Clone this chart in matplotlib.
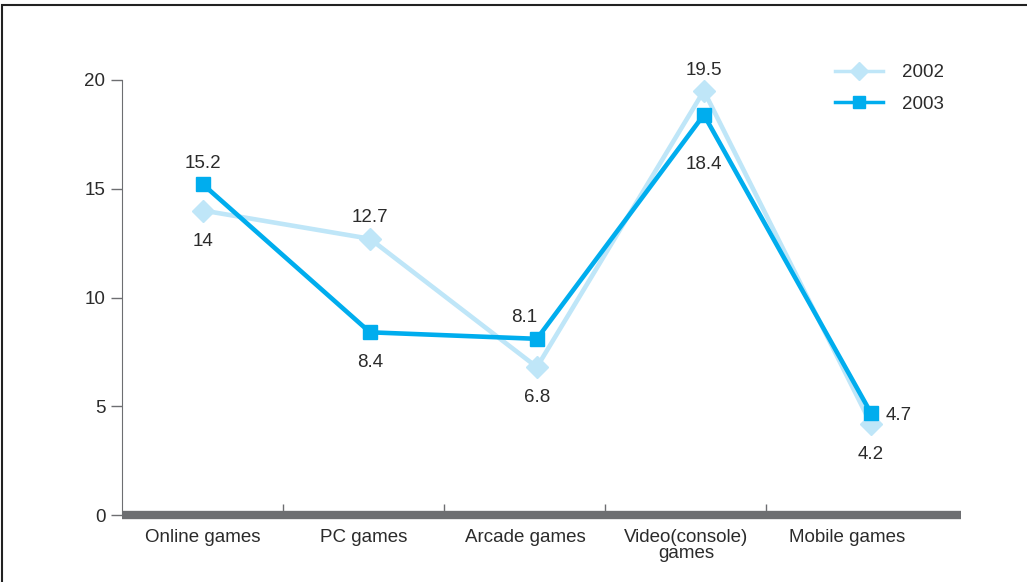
import matplotlib.pyplot as plt
from matplotlib.patches import Rectangle

categories = ["Online games", "PC games", "Arcade games", "Video(console)\ngames", "Mobile games"]
y2002 = [14, 12.7, 6.8, 19.5, 4.2]
y2003 = [15.2, 8.4, 8.1, 18.4, 4.7]

plt.rcParams['font.family'] = ['Liberation Sans', 'DejaVu Sans']
plt.rcParams['font.size'] = 13.5
plt.rcParams['text.color'] = '#2b2b2b'
plt.rcParams['xtick.labelcolor'] = '#2b2b2b'
plt.rcParams['ytick.labelcolor'] = '#2b2b2b'

light = '#bfe6f8'
blue = '#00adee'
grey = '#6d6e71'

fig = plt.figure(figsize=(10.27, 5.82), dpi=100)
# outer frame
fig.patches.append(Rectangle((2 / 1027, -0.1), 1.2, 1.1 - 5 / 582, transform=fig.transFigure,
                             fill=False, edgecolor='#222222', linewidth=1.5))

ax = fig.add_axes([122 / 1027, 1 - 515 / 582, 839 / 1027, 435 / 582])
xs = list(range(len(categories)))
ax.plot(xs, y2002, color=light, lw=3.3, marker='D', ms=11, label='2002', zorder=2)
ax.plot(xs, y2003, color=blue, lw=3.3, marker='s', ms=10, label='2003', zorder=3)

# value labels (offsets in points)
offs2002 = [(0, -22), (0, 15), (0, -22), (0, 15), (0, -22)]
offs2003 = [(0, 15), (0, -22), (-9, 15), (0, -36), (20, -2)]
for x, v, (dx, dy) in zip(xs, y2002, offs2002):
    ax.annotate(f"{v:g}", (x, v), xytext=(dx, dy), textcoords='offset points',
                ha='center', va='center')
for x, v, (dx, dy) in zip(xs, y2003, offs2003):
    ax.annotate(f"{v:g}", (x, v), xytext=(dx, dy), textcoords='offset points',
                ha='center', va='center')

ax.set_xlim(-0.485, 4.54)
ax.set_ylim(0, 20)
ax.set_yticks([0, 5, 10, 15, 20])
step = 161 / 167
ax.set_xticks([i * step for i in xs])
ax.set_xticklabels(categories, linespacing=0.9)
ax.set_xticks([(i + 0.5) * step for i in range(4)], minor=True)
ax.tick_params(axis='x', which='major', length=0, pad=10)
ax.tick_params(axis='x', which='minor', length=8, direction='in', color=grey, width=1)
ax.tick_params(axis='y', length=8, color=grey, width=1, pad=4)
for s in ['top', 'right']:
    ax.spines[s].set_visible(False)
ax.spines['left'].set_color(grey)
ax.spines['bottom'].set_color(grey)
ax.spines['bottom'].set_linewidth(6)
ax.spines['bottom'].set_capstyle('butt')

leg = ax.legend(loc='upper right', bbox_to_anchor=(1.0, 1.075), frameon=False, handlelength=2.6,
                handletextpad=1.0, labelspacing=0.75, markerscale=0.8)
for h in leg.get_lines():
    h.set_linewidth(2.5)

fig.savefig('out.png')
